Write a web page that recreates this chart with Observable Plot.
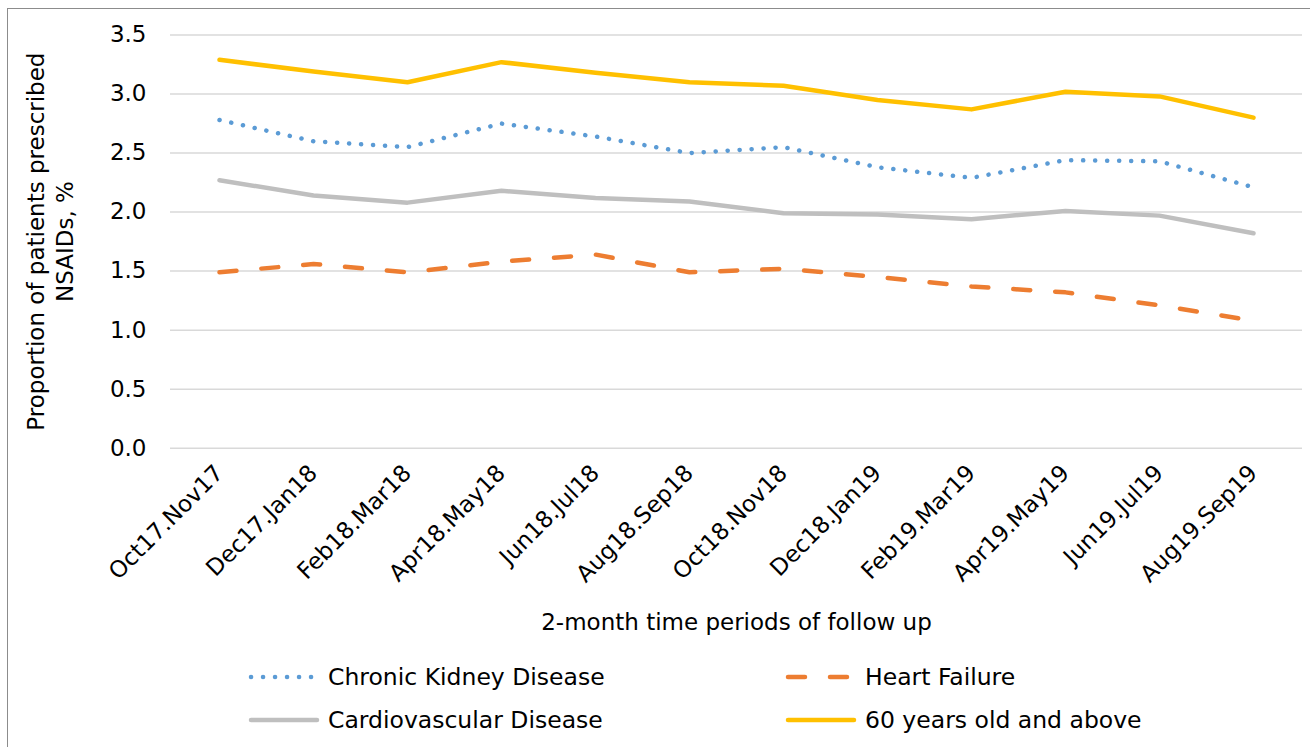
<!DOCTYPE html>
<html>
<head>
<meta charset="utf-8">
<script src="https://cdn.jsdelivr.net/npm/d3@7"></script>
<script src="https://cdn.jsdelivr.net/npm/@observablehq/plot@0.6"></script>
<style>
  html, body { margin: 0; padding: 0; background: #fff; overflow: hidden; }
  body { width: 1310px; height: 747px; position: relative; font-family: "DejaVu Sans", sans-serif; }
  #frame { position: absolute; left: 7px; top: 8px; width: 1400px; height: 900px; border: 1.5px solid #8c8c8c; box-sizing: border-box; pointer-events: none; }
  #chart { position: absolute; left: 0; top: 0; }
  #legend { position: absolute; left: 0; top: 655px; width: 1310px; height: 92px; }
  .item { position: absolute; display: flex; align-items: center; font-size: 23.5px; color: #000; white-space: nowrap; }
  .item svg { margin-right: 8px; }
</style>
</head>
<body>
<div id="chart"></div>
<div id="legend"></div>
<div id="frame"></div>
<script>
const periods = ["Oct17.Nov17","Dec17.Jan18","Feb18.Mar18","Apr18.May18","Jun18.Jul18","Aug18.Sep18","Oct18.Nov18","Dec18.Jan19","Feb19.Mar19","Apr19.May19","Jun19.Jul19","Aug19.Sep19"];
const ckd   = [2.78, 2.60, 2.55, 2.75, 2.64, 2.50, 2.55, 2.38, 2.29, 2.44, 2.43, 2.21];
const hf    = [1.49, 1.56, 1.49, 1.58, 1.64, 1.49, 1.52, 1.45, 1.37, 1.32, 1.21, 1.08];
const cvd   = [2.27, 2.14, 2.08, 2.18, 2.12, 2.09, 1.99, 1.98, 1.94, 2.01, 1.97, 1.82];
const age60 = [3.29, 3.19, 3.10, 3.27, 3.18, 3.10, 3.07, 2.95, 2.87, 3.02, 2.98, 2.80];
const yTicks = [0, 0.5, 1.0, 1.5, 2.0, 2.5, 3.0, 3.5];

const seriesDefs = [
  {name: "Chronic Kidney Disease", values: ckd, color: "#5B9BD5", dash: "0.1 11.9"},
  {name: "Heart Failure", values: hf, color: "#ED7D31", dash: "17 25"},
  {name: "Cardiovascular Disease", values: cvd, color: "#BFBFBF", dash: null},
  {name: "60 years old and above", values: age60, color: "#FFC000", dash: null}
];

const font = "'DejaVu Sans', sans-serif";
const fs = 23;

const lineMarks = seriesDefs.map(s => Plot.line(periods.map((p, i) => ({period: p, value: s.values[i]})), {
  x: "period", y: "value", stroke: s.color, strokeWidth: 4.5,
  strokeDasharray: s.dash || undefined, strokeLinecap: "round", strokeLinejoin: "round"
}));

const chart = Plot.plot({
  width: 1310,
  height: 655,
  marginLeft: 170,
  marginRight: 8,
  marginTop: 34.5,
  marginBottom: 207.3,
  style: {fontFamily: font, fontSize: fs + "px", color: "#000", background: "transparent"},
  x: {type: "point", domain: periods, padding: 0.5, label: null},
  y: {domain: [0, 3.5], label: null},
  marks: [
    Plot.ruleY(yTicks, {stroke: "#d9d9d9", strokeWidth: 1.5}),
    Plot.axisY(yTicks, {tickSize: 0, tickPadding: 24, tickFormat: d => d.toFixed(1), fontSize: fs, label: null}),
    Plot.axisX({tickSize: 0, tickPadding: 21, tickRotate: -45, fontSize: fs, label: null}),
    ...lineMarks,
    Plot.text(["Proportion of patients prescribed\nNSAIDs, %"], {
      frameAnchor: "left", rotate: -90, dx: -121, text: d => d, fontSize: fs, lineHeight: 1.22, textAnchor: "middle", lineAnchor: "middle", fill: "#000"
    }),
    Plot.text(["2-month time periods of follow up"], {
      frameAnchor: "bottom", dy: 182, text: d => d, fontSize: fs, textAnchor: "middle", fill: "#000"
    })
  ]
});
document.getElementById("chart").appendChild(chart);

// Legend
const legend = d3.select("#legend");
const pos = [[248, 22], [785, 22], [248, 65], [785, 65]];
seriesDefs.forEach((s, i) => {
  const item = legend.append("div").attr("class", "item")
    .style("left", pos[i][0] + "px").style("top", (pos[i][1] - 15) + "px").style("height", "30px");
  const sw = item.append("svg").attr("width", 72).attr("height", 14);
  sw.append("line").attr("x1", 3).attr("x2", 69).attr("y1", 7).attr("y2", 7)
    .attr("stroke", s.color).attr("stroke-width", 4.5)
    .attr("stroke-linecap", "round")
    .attr("stroke-dasharray", s.dash);
  item.append("span").text(s.name);
});
</script>
</body>
</html>
